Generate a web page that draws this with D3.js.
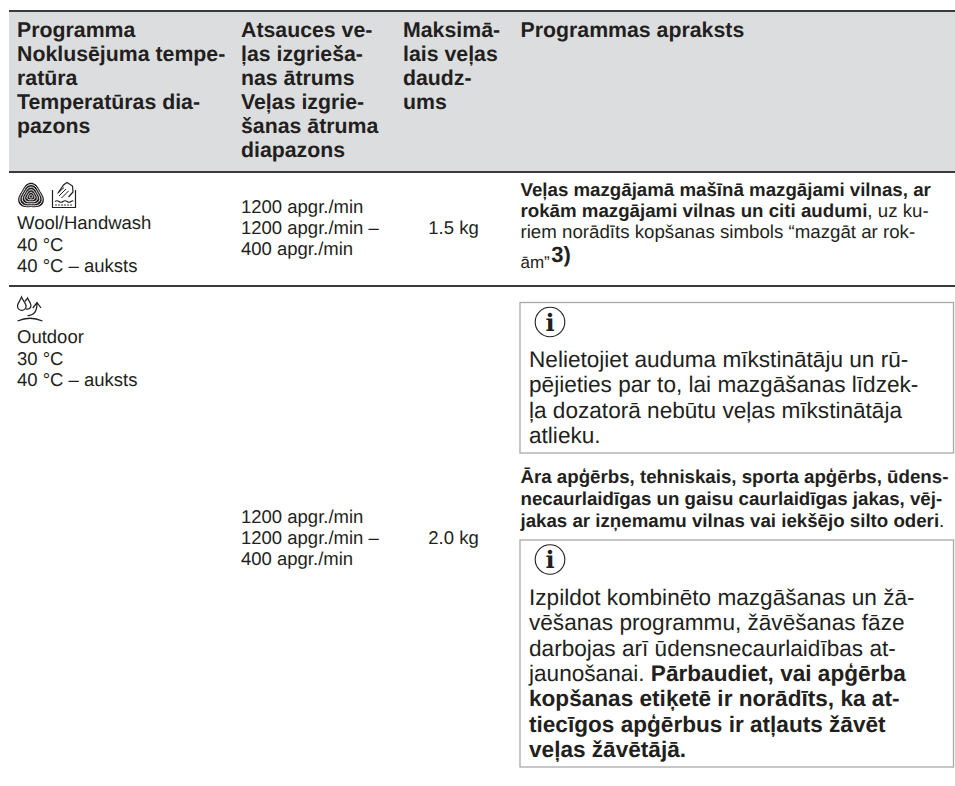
<!DOCTYPE html>
<html>
<head>
<meta charset="utf-8">
<script src="https://cdn.jsdelivr.net/npm/d3@7"></script>
<style>
html, body { margin: 0; padding: 0; background: #fff; }
svg { display: block; }
text { font-family: "Liberation Sans", Arial, sans-serif; fill: #231f20; text-rendering: geometricPrecision; white-space: pre; }
</style>
</head>
<body>
<svg id="table" width="955" height="786"></svg>
<script>
// table content, line by line as in the manual page. B: marks bold text
const columns = ["program", "spin", "load", "desc"];

const headProgram = ["Programma", "Noklusējuma tempe-", "ratūra", "Temperatūras dia-", "pazons"];
const headSpin = ["Atsauces ve-", "ļas izgrieša-", "nas ātrums", "Veļas izgrie-", "šanas ātruma", "diapazons"];
const headLoad = ["Maksimā-", "lais veļas", "daudz-", "ums"];
const headDesc = ["Programmas apraksts"];

const woolProgram = ["Wool/Handwash", "40 °C", "40 °C – auksts"];
const woolSpin = ["1200 apgr./min", "1200 apgr./min –", "400 apgr./min"];
const woolLoad = "1.5 kg";
const woolDesc = [
	[["B", "Veļas mazgājamā mašīnā mazgājami vilnas, ar"]],
	[["B", "rokām mazgājami vilnas un citi audumi"], ["", ", uz ku-"]],
	[["", "riem norādīts kopšanas simbols “mazgāt ar rok-"]]
];

const outdoorProgram = ["Outdoor", "30 °C", "40 °C – auksts"];
const outdoorSpin = ["1200 apgr./min", "1200 apgr./min –", "400 apgr./min"];
const outdoorLoad = "2.0 kg";
const outdoorNote1 = [
	[["", "Nelietojiet auduma mīkstinātāju un rū-"]],
	[["", "pējieties par to, lai mazgāšanas līdzek-"]],
	[["", "ļa dozatorā nebūtu veļas mīkstinātāja"]],
	[["", "atlieku."]]
];
const outdoorDesc = [
	[["B", "Āra apģērbs, tehniskais, sporta apģērbs, ūdens-"]],
	[["B", "necaurlaidīgas un gaisu caurlaidīgas jakas, vēj-"]],
	[["B", "jakas ar izņemamu vilnas vai iekšējo silto oderi"], ["", "."]]
];
const outdoorNote2 = [
	[["", "Izpildot kombinēto mazgāšanas un žā-"]],
	[["", "vēšanas programmu, žāvēšanas fāze"]],
	[["", "darbojas arī ūdensnecaurlaidības at-"]],
	[["", "jaunošanai. "], ["B", "Pārbaudiet, vai apģērba"]],
	[["B", "kopšanas etiķetē ir norādīts, ka at-"]],
	[["B", "tiecīgos apģērbus ir atļauts žāvēt"]],
	[["B", "veļas žāvētājā."]]
];

// layout
const width = 955;
const height = 786;
const left = 9;
const colX = d3.scaleOrdinal().domain(columns).range([17, 241, 403, 520.5]);
const loadCenter = 453.5;
const headSize = 21.3;
const bodySize = 18.5;
const descSize = 18.7;
const noteSize = 22.6;
const ink = "#231f20";

const svg = d3.select("#table");

function drawLines(g, lines, x, y0, dy, size, bold){
	g.append("g").selectAll("text")
		.data(lines)
		.join("text")
		.attr("x", x)
		.attr("y", (d, i) => y0 + i * dy)
		.attr("font-size", size)
		.attr("font-weight", bold ? "bold" : "normal")
		.text(d => d);
}

function drawRuns(g, lines, x, y0, dy, size){
	let t = g.append("g").selectAll("text")
		.data(lines)
		.join("text")
		.attr("x", x)
		.attr("y", (d, i) => y0 + i * dy)
		.attr("font-size", size);
	t.selectAll("tspan")
		.data(d => d)
		.join("tspan")
		.attr("font-weight", d => d[0] === "B" ? "bold" : "normal")
		.text(d => d[1]);
}

function drawNoteBox(g, y, h, lines, firstLine, dy){
	g.append("rect")
		.attr("x", 520).attr("y", y)
		.attr("width", 433.5).attr("height", h)
		.attr("fill", "#fff")
		.attr("stroke", "#a7a9ac")
		.attr("stroke-width", 1.3);
	let icon = g.append("g").attr("transform", `translate(550,${y + 19.5})`);
	icon.append("circle").attr("r", 14.8).attr("fill", "none").attr("stroke", ink).attr("stroke-width", 1.1);
	icon.append("text")
		.attr("text-anchor", "middle")
		.attr("y", 8.5)
		.attr("font-size", 24)
		.attr("font-weight", "bold")
		.style("font-family", "'DejaVu Serif', 'Liberation Serif', serif")
		.text("i");
	drawRuns(g, lines, 529, firstLine, dy, noteSize);
}

// wool mark: nested three lobed rings
function drawWool(g){
	let trefoil = d3.lineRadial()
		.angle(d => d)
		.radius(d => 1 + 0.13 * Math.cos(3 * d))
		.curve(d3.curveCardinalClosed);
	let angles = d3.range(0, Math.PI * 2, Math.PI / 18);
	let w = g.append("g").attr("transform", "translate(31,196.500)");
	w.append("path")
		.attr("d", trefoil(angles))
		.attr("transform", "scale(12.2)")
		.attr("fill", ink);
	[10.6, 8.3, 6, 3.7, 1.6].forEach(s => {
		w.append("path")
			.attr("d", trefoil(angles))
			.attr("transform", `scale(${s})`)
			.attr("fill", "none")
			.attr("stroke", "#fff")
			.attr("stroke-width", 0.9 / s);
	});
}

function drawHandwash(g){
	let h = g.append("g").attr("fill", "none").attr("stroke", ink).attr("stroke-width", 1.2);
	h.append("path").attr("d", "M52.500 190V207.500H75.500V190");
	h.append("path").attr("d", "M58 193L63.500 185L67 182.500L72.500 186L73 192L68.500 197");
	h.append("path").attr("d", "M59 196L66 189M61.500 198L68.500 191M57.500 193.500L64 187.500").attr("stroke-width", 1);
	h.append("path").attr("d", "M55 201.500q2-1.500 4 0t4 0t4 0t4 0t2 0").attr("stroke-width", 1.1);
	h.append("path").attr("d", "M55 205H73").attr("stroke-dasharray", "2,1").attr("stroke-width", 0.9);
}

function drawOutdoorIcon(g){
	let h = g.append("g").attr("fill", "none").attr("stroke", ink).attr("stroke-width", 1.25);
	h.append("path").attr("d", "M21.500 297c-1.500 4-4 6.500-4 9a4.300 4.300 0 0 0 8.600 0c0-2.500-3-5-4.600-9z");
	h.append("path").attr("d", "M25 301.500c.8-1.300 1.800-2.300 2.500-3.500c1 2.500 3.500 5 3.500 7.500a3.600 3.600 0 0 1-5 3.300");
	h.append("path").attr("d", "M27.500 315.500c5.500 0 9.500-3.500 9.500-12M32.800 308L37 302.500L41 308");
	h.append("path").attr("d", "M17.500 321Q30 315.500 42.500 321");
}

// header band and rules
svg.append("rect").attr("x", left).attr("y", 11).attr("width", width - left).attr("height", 161).attr("fill", "#dcddde");
svg.append("g").selectAll("line")
	.data([11, 172, 286])
	.join("line")
	.attr("x1", left).attr("x2", width)
	.attr("y1", d => d).attr("y2", d => d)
	.attr("stroke", "#3a3a3c")
	.attr("stroke-width", 2);

// header row
let head = svg.append("g");
drawLines(head, headProgram, colX("program"), 37, 24, headSize, true);
drawLines(head, headSpin, colX("spin"), 37, 24, headSize, true);
drawLines(head, headLoad, colX("load"), 37, 24, headSize, true);
drawLines(head, headDesc, colX("desc"), 37, 24, headSize, true);

// wool row
let wool = svg.append("g");
drawWool(wool);
drawHandwash(wool);
drawLines(wool, woolProgram, colX("program"), 229, 21.5, bodySize, false);
drawLines(wool, woolSpin, colX("spin"), 213, 21, bodySize, false);
wool.append("text").attr("x", loadCenter).attr("y", 234).attr("text-anchor", "middle").attr("font-size", bodySize).text(woolLoad);
drawRuns(wool, woolDesc, colX("desc"), 196, 21, descSize);
let tail = wool.append("text").attr("x", colX("desc")).attr("y", 268);
tail.append("tspan").attr("font-size", 17).text("ām”");
tail.append("tspan").attr("font-size", 22).attr("font-weight", "bold").attr("dx", 1.5).attr("dy", -6).text("3)");

// outdoor row
let outdoor = svg.append("g");
drawOutdoorIcon(outdoor);
drawLines(outdoor, outdoorProgram, colX("program"), 343, 21.5, bodySize, false);
drawLines(outdoor, outdoorSpin, colX("spin"), 522.5, 21, bodySize, false);
outdoor.append("text").attr("x", loadCenter).attr("y", 543.5).attr("text-anchor", "middle").attr("font-size", bodySize).text(outdoorLoad);
drawNoteBox(outdoor, 302.5, 150.5, outdoorNote1, 367, 25.3);
drawRuns(outdoor, outdoorDesc, colX("desc"), 483, 22, descSize);
drawNoteBox(outdoor, 540, 227, outdoorNote2, 605, 25.3);
</script>
</body>
</html>
